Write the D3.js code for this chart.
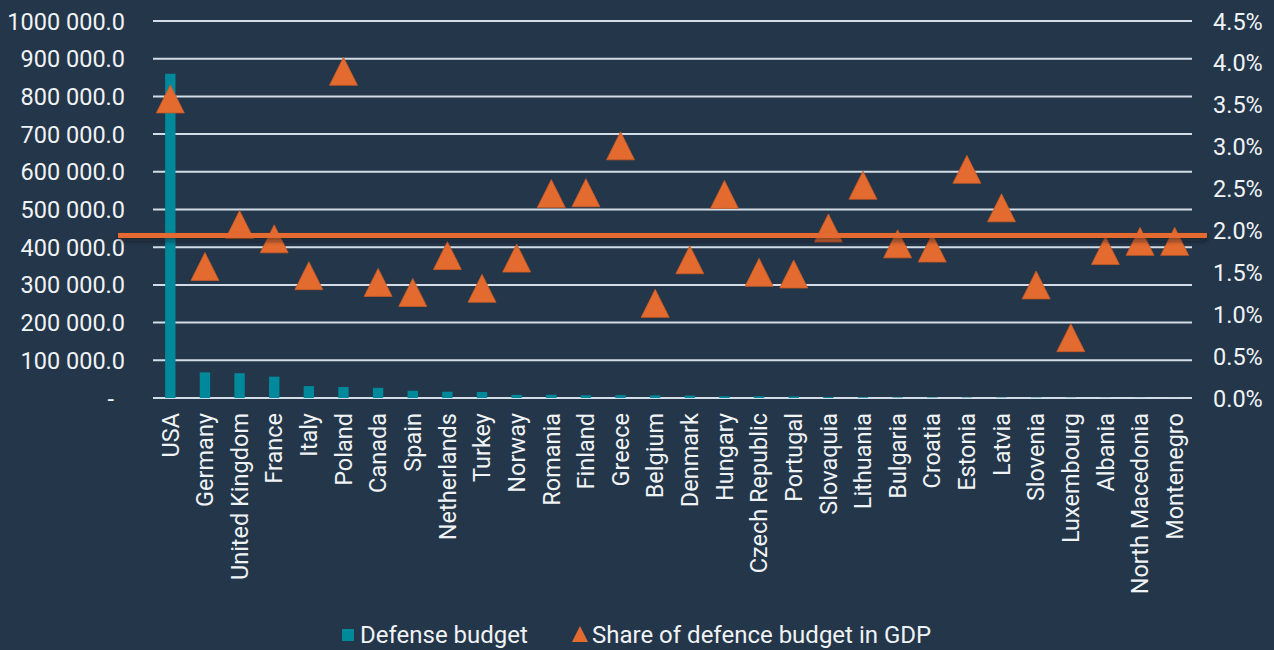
<!DOCTYPE html>
<html lang="en">
	<head>
		<meta charset="utf-8">
		<title>Defense budget and share of GDP</title>
		<script type="text/javascript" src="https://cdn.jsdelivr.net/npm/d3@7"></script>
		<style type="text/css">
			body { margin: 0; background: #243649; }
			text { font-family: Roboto, "Noto Sans", sans-serif; fill: #f0f3f6; }
		</style>
	</head>
	<body>
		<script type="text/javascript">

			//Width and height
			var w = 1274;
			var h = 650;
			var margin = { top: 21, right: 82, bottom: 252, left: 153 };

			//Data
			var countries = ["USA", "Germany", "United Kingdom", "France", "Italy", "Poland", "Canada", "Spain",
				"Netherlands", "Turkey", "Norway", "Romania", "Finland", "Greece", "Belgium", "Denmark", "Hungary",
				"Czech Republic", "Portugal", "Slovaquia", "Lithuania", "Bulgaria", "Croatia", "Estonia", "Latvia",
				"Slovenia", "Luxembourg", "Albania", "North Macedonia", "Montenegro"];

			//Defense budget (USD million)
			var budget = [860000, 68000, 65800, 56600, 31600, 29100, 26900, 19200,
				16700, 15800, 8400, 8500, 7300, 7500, 7000, 6400, 4600,
				4600, 4200, 2700, 2000, 1400, 1300, 1100, 1000,
				900, 600, 400, 300, 150];

			//Share of defence budget in GDP (%)
			var share = [3.57, 1.57, 2.07, 1.90, 1.46, 3.90, 1.38, 1.26,
				1.70, 1.31, 1.67, 2.44, 2.45, 3.01, 1.13, 1.65, 2.43,
				1.50, 1.48, 2.03, 2.54, 1.84, 1.79, 2.73, 2.27,
				1.35, 0.72, 1.76, 1.87, 1.87];

			//Tick values
			var leftTicks = [0, 100000, 200000, 300000, 400000, 500000, 600000, 700000, 800000, 900000, 1000000];
			var rightTicks = [0, 0.5, 1, 1.5, 2, 2.5, 3, 3.5, 4, 4.5];

			//Reference line drawn across the chart (share of GDP, %)
			var refLine = 1.94;

			var seriesNames = ["Defense budget", "Share of defence budget in GDP"];

			var teal = "#00899b";
			var orange = "#e46b30";
			var gridColor = "#d3dde7";

			var innerW = w - margin.left - margin.right;
			var innerH = h - margin.top - margin.bottom;

			//Scales
			var xScale = d3.scaleBand()
				.domain(countries)
				.range([margin.left, margin.left + innerW])
				.padding(0);

			var yScale = d3.scaleLinear()
				.domain([0, 1000000])
				.range([margin.top + innerH, margin.top]);

			var y2Scale = d3.scaleLinear()
				.domain([0, 4.5])
				.range([margin.top + innerH, margin.top]);

			// "1000 000.0" style: group only the last three digits, zero shown as "-"
			var leftFmt = function(d) {
				if (d === 0) return "-";
				var parts = d3.format(".1f")(d).split(".");
				var intPart = parts[0];
				return intPart.slice(0, intPart.length - 3) + " " + intPart.slice(-3) + "." + parts[1];
			};

			//Create SVG element
			var svg = d3.select("body")
				.append("svg")
				.attr("width", w)
				.attr("height", h);

			svg.append("rect")
				.attr("width", w)
				.attr("height", h)
				.attr("fill", "#243649");

			var defs = svg.append("defs");
			var shadow = defs.append("filter")
				.attr("id", "shadow")
				.attr("filterUnits", "userSpaceOnUse")
				.attr("x", 0).attr("y", 0)
				.attr("width", w).attr("height", h);
			shadow.append("feDropShadow")
				.attr("dx", 0).attr("dy", 3)
				.attr("stdDeviation", 2.5)
				.attr("flood-color", "#0b1420")
				.attr("flood-opacity", 0.6);

			//Gridlines
			svg.append("g")
				.selectAll("line")
				.data(leftTicks)
				.enter()
				.append("line")
				.attr("x1", margin.left)
				.attr("x2", margin.left + innerW)
				.attr("y1", function(d) { return yScale(d); })
				.attr("y2", function(d) { return yScale(d); })
				.attr("stroke", gridColor)
				.attr("stroke-width", 2);

			//Left axis
			var yAxis = d3.axisLeft(yScale)
				.tickValues(leftTicks)
				.tickSize(0)
				.tickPadding(28)
				.tickFormat(leftFmt);

			var gy = svg.append("g")
				.attr("transform", "translate(" + margin.left + ",0)")
				.call(yAxis);
			gy.select(".domain").remove();
			gy.selectAll("text")
				.attr("font-size", "23.5px")
				.attr("fill", "#f0f3f6")
				.attr("dy", "0.34em")
				.attr("dx", function(d) { return d === 0 ? -11 : 0; });

			//Right axis
			var y2Axis = d3.axisRight(y2Scale)
				.tickValues(rightTicks)
				.tickSize(0)
				.tickPadding(21)
				.tickFormat(function(d) { return d3.format(".1f")(d) + "%"; });

			var gy2 = svg.append("g")
				.attr("transform", "translate(" + (margin.left + innerW) + ",0)")
				.call(y2Axis);
			gy2.select(".domain").remove();
			gy2.selectAll("text")
				.attr("font-size", "23.5px")
				.attr("fill", "#f0f3f6")
				.attr("dy", "0.34em");

			//Bars
			var barW = xScale.bandwidth() * 0.3;
			svg.append("g")
				.selectAll("rect")
				.data(countries)
				.enter()
				.append("rect")
				.attr("x", function(d) { return xScale(d) + (xScale.bandwidth() - barW) / 2; })
				.attr("y", function(d, i) { return yScale(budget[i]); })
				.attr("width", barW)
				.attr("height", function(d, i) { return yScale(0) - yScale(budget[i]); })
				.attr("fill", teal);

			//Triangles
			var tri = "M0,-14L14,14L-14,14Z";
			svg.append("g")
				.selectAll("path")
				.data(countries)
				.enter()
				.append("path")
				.attr("d", tri)
				.attr("transform", function(d, i) {
					return "translate(" + (xScale(d) + xScale.bandwidth() / 2) + "," + y2Scale(share[i]) + ")";
				})
				.attr("fill", orange)
				.attr("stroke", "#c95a24")
				.attr("stroke-width", 0.8);

			//Reference line on top, with shadow
			svg.append("rect")
				.attr("x", xScale.range()[0] - 35)
				.attr("width", (xScale.range()[1] + 15) - (xScale.range()[0] - 35))
				.attr("y", y2Scale(refLine) - 2.5)
				.attr("height", 5)
				.attr("fill", orange)
				.attr("filter", "url(#shadow)");

			//Country labels
			svg.append("g")
				.selectAll("text")
				.data(countries)
				.enter()
				.append("text")
				.text(function(d) { return d; })
				.attr("transform", function(d) {
					return "translate(" + (xScale(d) + xScale.bandwidth() / 2) + "," + (yScale(0) + 15) + ") rotate(-90)";
				})
				.attr("text-anchor", "end")
				.attr("dy", "0.35em")
				.attr("font-size", "23.5px");

			//Legend
			var legend = svg.append("g");
			legend.append("rect")
				.attr("x", 342)
				.attr("y", 629)
				.attr("width", 12)
				.attr("height", 12)
				.attr("fill", teal);
			legend.append("text")
				.attr("x", 360)
				.attr("y", 643)
				.attr("font-size", "24px")
				.text(seriesNames[0]);
			legend.append("path")
				.attr("d", "M0,-8L8,8L-8,8Z")
				.attr("transform", "translate(580,634)")
				.attr("fill", orange);
			legend.append("text")
				.attr("x", 592)
				.attr("y", 643)
				.attr("font-size", "24px")
				.text(seriesNames[1]);

		</script>
	</body>
</html>
